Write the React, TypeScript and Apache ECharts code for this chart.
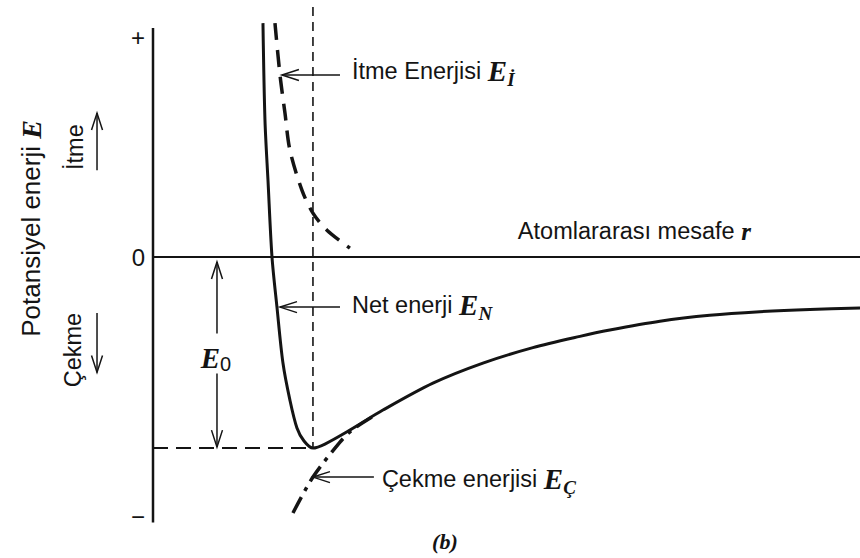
import React, { useEffect, useRef } from "react";
import * as echarts from "echarts";

const INK = "#141414";
const SANS = "'Liberation Sans', Arial, sans-serif";
const SERIF = "'Liberation Serif', 'Times New Roman', serif";

// Interatomic distance r (in units of the equilibrium spacing r0) and
// potential energy (in units of the bond energy E0).
const netR = [0.6875, 0.7, 0.719, 0.744, 0.775, 0.8125, 0.856, 0.9, 0.944, 1.0, 1.075, 1.231, 1.4375, 1.75, 2.0625, 2.375, 2.669, 2.856, 3.169, 3.481, 3.794, 4.106, 4.42];
const netE = [1.225, 0.717, 0.4, 0.0, -0.262, -0.555, -0.749, -0.895, -0.963, -1.0, -0.979, -0.906, -0.801, -0.66, -0.555, -0.474, -0.415, -0.382, -0.336, -0.305, -0.286, -0.274, -0.267];

// Repulsive energy E_İ
const repR = [0.7625, 0.794, 0.825, 0.856, 0.931, 1.0, 1.0875, 1.231];
const repE = [1.225, 0.953, 0.754, 0.56, 0.351, 0.23, 0.141, 0.047];

// Attractive energy E_Ç
const attR = [0.875, 1.0, 1.169, 1.244, 1.4];
const attE = [-1.34, -1.152, -0.969, -0.906, -0.822];

// Energy axis, equilibrium spacing and bond-energy level guides
const axisLineR = [0, 0];
const axisLineE = [-1.39, 1.2];
const equilR = [1.0, 1.0];
const equilE = [1.31, -1.0];
const minLevelR = [0, 1.0];
const minLevelE = [-1.0, -1.0];

const tickValues = [1.15, 0, -1.36];
const tickLabels = ["+", "0", "\u2212"];

// Annotation arrows: [r, E] start -> [r, E] tip
const arrowFrom: number[][] = [
  [-0.35, 0.455],
  [-0.35, -0.293],
  [1.169, 0.953],
  [1.169, -0.262],
  [1.381, -1.152],
  [0.4, -0.4],
  [0.4, -0.61],
];
const arrowTo: number[][] = [
  [-0.35, 0.754],
  [-0.35, -0.604],
  [0.806, 0.953],
  [0.794, -0.262],
  [1.0, -1.152],
  [0.4, -0.026],
  [0.4, -0.995],
];

// Text annotations placed in data coordinates
const labelPos: number[][] = [
  [-0.7625, 0.15],
  [-0.4875, 0.576],
  [-0.5, -0.487],
  [1.244, 0.975],
  [1.244, -0.25],
  [1.431, -1.16],
  [2.281, 0.136],
  [0.394, -0.529],
  [1.825, -1.487],
];
const labelText = [
  "{y|Potansiyel enerji }{ye|E}",
  "{t|İtme}",
  "{t|Çekme}",
  "{t|İtme Enerjisi }{e|E}{s|İ}",
  "{t|Net enerji }{e|E}{s|N}",
  "{t|Çekme enerjisi }{e|E}{s|Ç}",
  "{t|Atomlararası mesafe }{r|r}",
  "{e|E}{z|0}",
  "{b|(b)}",
];
const labelAlign = ["center", "center", "center", "left", "left", "left", "left", "center", "center"];
const labelRotate = [Math.PI / 2, Math.PI / 2, Math.PI / 2, 0, 0, 0, 0, 0, 0];

const rich: Record<string, any> = {
  t: { fontFamily: SANS, fontSize: 23.5, fill: INK, lineHeight: 32 },
  y: { fontFamily: SANS, fontSize: 26, fill: INK, lineHeight: 32 },
  ye: { fontFamily: SERIF, fontSize: 28, fontWeight: "bold", fontStyle: "italic", fill: INK, lineHeight: 32 },
  e: { fontFamily: SERIF, fontSize: 29, fontWeight: "bold", fontStyle: "italic", fill: INK, lineHeight: 32 },
  r: { fontFamily: SERIF, fontSize: 25, fontWeight: "bold", fontStyle: "italic", fill: INK, lineHeight: 32 },
  s: { fontFamily: SERIF, fontSize: 19, fontWeight: "bold", fontStyle: "italic", fill: INK, verticalAlign: "bottom", padding: [0, 0, -2, 0] },
  z: { fontFamily: SANS, fontSize: 20, fill: INK, verticalAlign: "bottom" },
  b: { fontFamily: SERIF, fontSize: 22, fontWeight: "bold", fontStyle: "italic", fill: INK },
};

const zip = (xs: number[], ys: number[]) => xs.map((x, i) => [x, ys[i]]);

const lineSeries = (data: number[][], width: number, type: any, smooth: number | boolean = false) => ({
  type: "line",
  data,
  symbol: "none",
  silent: true,
  smooth,
  clip: false,
  lineStyle: { color: INK, width, type, cap: "butt" },
});

export default function App() {
  const ref = useRef<HTMLDivElement>(null);

  useEffect(() => {
    document.body.style.margin = "0";
    if (!ref.current) return;
    const chart = echarts.init(ref.current, null, { renderer: "svg" });

    chart.setOption({
      animation: false,
      backgroundColor: "#ffffff",
      grid: { left: 153, right: 0, top: 5, bottom: 24, containLabel: false, outerBoundsMode: "none" },
      xAxis: {
        type: "value",
        min: 0,
        max: 4.42,
        axisLine: { show: true, onZero: true, lineStyle: { color: INK, width: 2 } },
        axisTick: { show: false },
        axisLabel: { show: false },
        splitLine: { show: false },
      },
      yAxis: {
        type: "value",
        min: -1.45,
        max: 1.32,
        axisLine: { show: false },
        axisTick: { show: false },
        splitLine: { show: false },
        axisLabel: {
          customValues: tickValues,
          formatter: (v: number) => {
            const i = tickValues.indexOf(v);
            return i >= 0 ? tickLabels[i] : "";
          },
          fontFamily: SANS,
          fontSize: 24,
          color: INK,
          margin: 8,
        },
      },
      series: [
        lineSeries(zip(axisLineR, axisLineE), 2.5, "solid"),
        lineSeries(zip(equilR, equilE), 1.6, [9, 6]),
        lineSeries(zip(minLevelR, minLevelE), 2, [15, 8]),
        lineSeries(zip(repR, repE), 3.5, [17, 10], 0.3),
        lineSeries(zip(attR, attE), 3.5, [18, 7, 4, 7], 0.3),
        lineSeries(zip(netR, netE), 3, "solid", 0.3),
        {
          type: "custom",
          silent: true,
          clip: false,
          data: arrowFrom.map((p, i) => [p[0], p[1], arrowTo[i][0], arrowTo[i][1]]),
          renderItem: (params: any, api: any) => {
            const i = params.dataIndex;
            const p1 = api.coord(arrowFrom[i]);
            const p2 = api.coord(arrowTo[i]);
            const dx = p2[0] - p1[0];
            const dy = p2[1] - p1[1];
            const len = Math.hypot(dx, dy) || 1;
            const ux = dx / len;
            const uy = dy / len;
            const L = 17;
            const W = 5.5;
            const bx = p2[0] - ux * L;
            const by = p2[1] - uy * L;
            return {
              type: "group",
              children: [
                {
                  type: "line",
                  shape: { x1: p1[0], y1: p1[1], x2: p2[0], y2: p2[1] },
                  style: { stroke: INK, lineWidth: 1.5 },
                },
                {
                  type: "polyline",
                  shape: { points: [[bx - uy * W, by + ux * W], p2, [bx + uy * W, by - ux * W]] },
                  style: { stroke: INK, lineWidth: 1.5, fill: "none" },
                },
              ],
            };
          },
        },
        {
          type: "custom",
          silent: true,
          clip: false,
          data: labelPos,
          renderItem: (params: any, api: any) => {
            const i = params.dataIndex;
            const p = api.coord(labelPos[i]);
            return {
              type: "text",
              x: p[0],
              y: p[1],
              rotation: labelRotate[i],
              style: {
                text: labelText[i],
                rich,
                align: labelAlign[i],
                verticalAlign: "middle",
                fill: INK,
                fontFamily: SANS,
                fontSize: 22,
              },
            };
          },
        },
      ],
    });

    return () => chart.dispose();
  }, []);

  return <div ref={ref} style={{ width: 860, height: 558 }} />;
}
